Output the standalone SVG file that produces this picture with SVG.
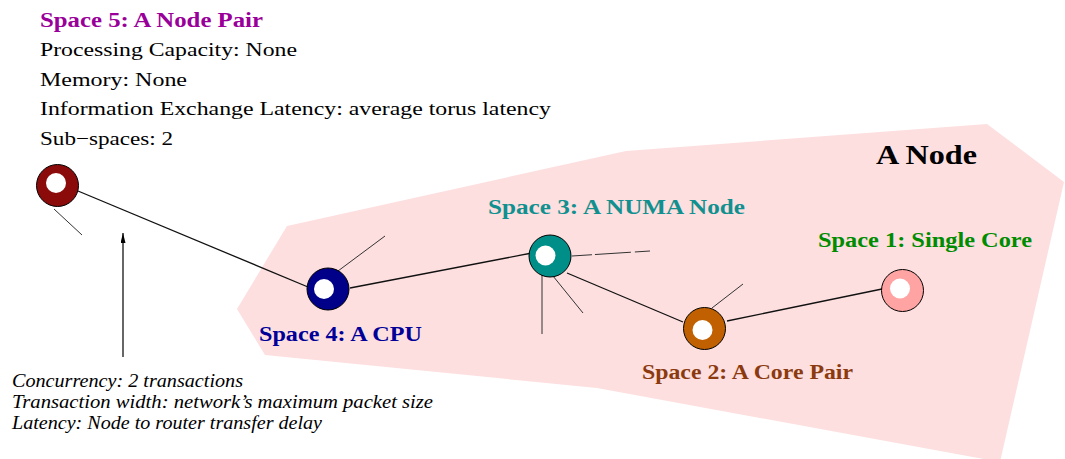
<svg xmlns="http://www.w3.org/2000/svg" width="1065" height="459" viewBox="0 0 1065 459">
<defs>
<style>
.t{font-family:"Liberation Serif","Times New Roman",serif;font-size:19px;fill:#000}
.b{font-family:"Liberation Serif","Times New Roman",serif;font-size:20px;font-weight:bold}
.i{font-family:"Liberation Serif","Times New Roman",serif;font-size:18px;font-style:italic;fill:#000}
.ring{stroke:#000;stroke-width:1}
.hole{fill:#fff}
.link{stroke:#111;stroke-width:1.3;fill:none}
.stub{stroke:#333;stroke-width:1;fill:none}
</style>
<marker id="ah" viewBox="0 0 10 5" refX="10" refY="2.5" markerWidth="10" markerHeight="5" markerUnits="userSpaceOnUse" orient="auto">
<path d="M0,0 L10,2.5 L0,5 Z" fill="#000"/>
</marker>
</defs>
<rect width="1065" height="459" fill="#fff"/>
<g id="node-region">
<polygon points="287,226 626,151 987,124 1064,182 1000,462 597,388 265,355 237,309" fill="#fddfdf"/>
<text class="b" x="876" y="164" style="font-size:27px" fill="#000" textLength="101" lengthAdjust="spacingAndGlyphs">A Node</text>
</g>
<g id="connectors">
<line class="link" x1="78" y1="191" x2="308" y2="287"/>
<line class="link" x1="350" y1="288" x2="532" y2="253"/>
<line class="link" x1="567" y1="273" x2="683" y2="322"/>
<line class="link" x1="727" y1="321" x2="882" y2="289"/>
<line class="stub" x1="54" y1="209" x2="82" y2="235"/>
<line class="stub" x1="338" y1="271" x2="385" y2="236"/>
<line class="stub" x1="572" y1="256" x2="650" y2="251" stroke-dasharray="20 3 36 4"/>
<line class="stub" x1="542" y1="274" x2="542" y2="334"/>
<line class="stub" x1="553" y1="276" x2="583" y2="313"/>
<line class="stub" x1="712" y1="308" x2="743" y2="284"/>
<line x1="123" y1="357" x2="123" y2="233" stroke="#000" stroke-width="1.2" marker-end="url(#ah)"/>
</g>
<g id="space5">
<circle class="ring" cx="57.5" cy="185.5" r="21" fill="#8b0a0a"/>
<circle class="hole" cx="56" cy="183" r="10"/>
<text class="b" x="40" y="27" fill="#990099" textLength="223" lengthAdjust="spacingAndGlyphs">Space 5: A Node Pair</text>
<text class="t" x="40" y="56" textLength="257" lengthAdjust="spacingAndGlyphs">Processing Capacity: None</text>
<text class="t" x="40" y="86" textLength="147" lengthAdjust="spacingAndGlyphs">Memory: None</text>
<text class="t" x="40" y="115" textLength="511" lengthAdjust="spacingAndGlyphs">Information Exchange Latency: average torus latency</text>
<text class="t" x="40" y="145" textLength="133" lengthAdjust="spacingAndGlyphs">Sub−spaces: 2</text>
</g>
<g id="space4">
<circle class="ring" cx="328" cy="289" r="21" fill="#000088"/>
<circle class="hole" cx="324" cy="289" r="10"/>
<text class="b" x="259" y="341" fill="#000099" textLength="163" lengthAdjust="spacingAndGlyphs">Space 4: A CPU</text>
</g>
<g id="space3">
<circle class="ring" cx="550" cy="256" r="21" fill="#008f88"/>
<circle class="hole" cx="545.5" cy="255.5" r="10"/>
<text class="b" x="488" y="214" fill="#119090" textLength="257" lengthAdjust="spacingAndGlyphs">Space 3: A NUMA Node</text>
</g>
<g id="space2">
<circle class="ring" cx="704.5" cy="328.5" r="21" fill="#c06000"/>
<circle class="hole" cx="702.5" cy="330" r="10"/>
<text class="b" x="642" y="379" fill="#8b3a10" textLength="211" lengthAdjust="spacingAndGlyphs">Space 2: A Core Pair</text>
</g>
<g id="space1">
<circle class="ring" cx="902.5" cy="290.5" r="21" fill="#ffa3a3"/>
<circle class="hole" cx="900" cy="288.5" r="10"/>
<text class="b" x="818" y="247" fill="#008c00" textLength="214" lengthAdjust="spacingAndGlyphs">Space 1: Single Core</text>
</g>
<g id="link-note">
<text class="i" x="12" y="387" textLength="231" lengthAdjust="spacingAndGlyphs">Concurrency: 2 transactions</text>
<text class="i" x="12" y="408" textLength="421" lengthAdjust="spacingAndGlyphs">Transaction width: network’s maximum packet size</text>
<text class="i" x="12" y="429" textLength="310" lengthAdjust="spacingAndGlyphs">Latency: Node to router transfer delay</text>
</g>
</svg>
